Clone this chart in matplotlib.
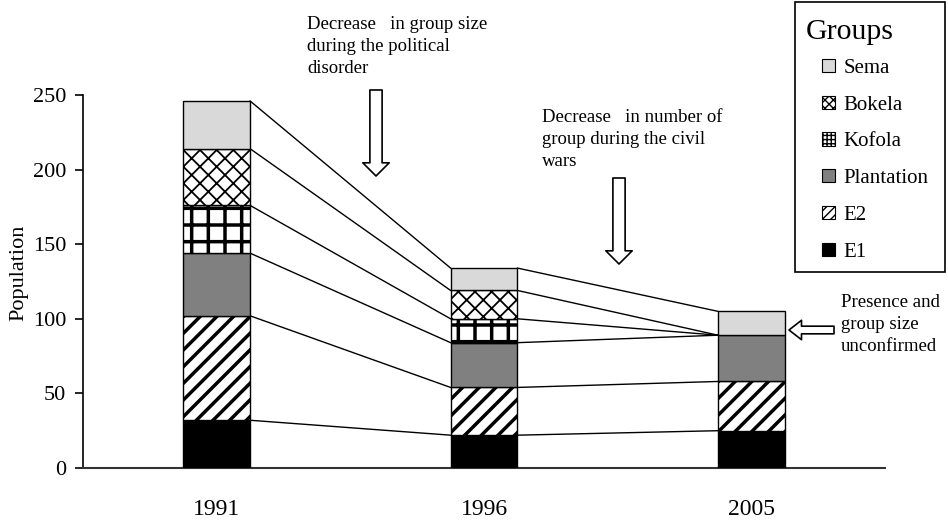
import matplotlib
matplotlib.use("Agg")
import matplotlib.pyplot as plt
from matplotlib.patches import Patch, Rectangle
import numpy as np

years = ["1991", "1996", "2005"]
groups = ["E1", "E2", "Plantation", "Kofola", "Bokela", "Sema"]
E1 = [32, 22, 25]
E2 = [70, 32, 33]
Plantation = [42, 30, 31]
Kofola = [32, 16, 0]
Bokela = [38, 19, 0]
Sema = [32, 15, 16]
series = [E1, E2, Plantation, Kofola, Bokela, Sema]
yticks = [0, 50, 100, 150, 200, 250]

styles = {
    "E1": dict(color="black", hatch=None, hlw=1.0),
    "E2": dict(color="white", hatch="//", hlw=2.5),
    "Plantation": dict(color="#808080", hatch=None, hlw=1.0),
    "Kofola": dict(color="white", hatch="+", hlw=2.5),
    "Bokela": dict(color="white", hatch="xx", hlw=1.3),
    "Sema": dict(color="#d9d9d9", hatch=None, hlw=1.0),
}

plt.rcParams["font.family"] = ["Liberation Serif", "DejaVu Serif"]

W, H = 948, 522
fig = plt.figure(figsize=(W / 100, H / 100), dpi=100)
ax = fig.add_axes([83 / W, 1 - 468 / H, (885 - 83) / W, (468 - 95) / H])

x = np.arange(len(years))
bw = 0.25
bottom = np.zeros(len(years))
tops = []
for name, vals in zip(groups, series):
    st = styles[name]
    plt.rcParams["hatch.linewidth"] = st["hlw"]
    vals = np.array(vals, dtype=float)
    mask = vals > 0
    ax.bar(x[mask], vals[mask], bw, bottom=bottom[mask], color=st["color"],
           hatch=st["hatch"], edgecolor="black", linewidth=1.0, zorder=3)
    bottom = bottom + vals
    tops.append(bottom.copy())

# connector lines
for t in tops:
    for i in range(len(years) - 1):
        ax.plot([x[i] + bw / 2, x[i + 1] - bw / 2], [t[i], t[i + 1]],
                color="black", lw=1.0, zorder=2)

ax.set_xlim(-0.5, 2.5)
ax.set_ylim(0, 250)
ax.set_yticks(yticks)
ax.set_yticklabels([str(v) for v in yticks], fontsize=16)
ax.set_xticks(x)
ax.set_xticklabels(years, fontsize=17)
ax.tick_params(axis="x", length=0, pad=22)
ax.tick_params(axis="y", direction="out", length=6, width=1.2, pad=6)
for s in ["top", "right"]:
    ax.spines[s].set_visible(False)
ax.spines["left"].set_linewidth(1.2)
ax.spines["bottom"].set_linewidth(1.5)
ax.spines["bottom"].set_color("#333333")
ax.set_ylabel("Population", fontsize=16)
ax.yaxis.set_label_coords(-0.068, 0.523)

# annotations
def ftext(px, py, s, **kw):
    fig.text(px / W, 1 - py / H, s, fontsize=13.5, va="top", ha="left",
             linespacing=1.4, **kw)

ftext(307, 16, "Decrease   in group size\nduring the political\ndisorder")
ftext(542, 109, "Decrease   in number of\ngroup during the civil\nwars")
ftext(841, 294, "Presence and\ngroup size\nunconfirmed")

def farrow(x0, y0, x1, y1, tw, hw, hl):
    ax.annotate("", xy=(x1 / W, 1 - y1 / H), xytext=(x0 / W, 1 - y0 / H),
                xycoords="figure fraction", textcoords="figure fraction",
                arrowprops=dict(arrowstyle=f"simple,head_width={hw},head_length={hl},tail_width={tw}",
                                fc="white", ec="black", lw=1.2, shrinkA=0, shrinkB=0),
                annotation_clip=False)

farrow(376, 90, 376, 176, 0.88, 1.9, 0.95)
farrow(619, 178, 619, 264, 0.88, 1.9, 0.95)
farrow(834, 330, 789, 330, 0.55, 1.4, 0.9)

# legend box
fig.add_artist(Rectangle((795 / W, 1 - 272 / H), 150 / W, 270 / H,
                         transform=fig.transFigure, fill=False,
                         edgecolor="black", lw=1.2))
fig.text(806 / W, 1 - 19 / H, "Groups", fontsize=21.5, va="top", ha="left")

handles = []
for name in reversed(groups):
    st = styles[name]
    handles.append(Patch(facecolor=st["color"], edgecolor="black",
                         hatch=(st["hatch"][0] * 4 if st["hatch"] else None),
                         label=name, lw=0.8))
plt.rcParams["hatch.linewidth"] = 1.0
leg = fig.legend(handles=handles, loc="upper left",
                 bbox_to_anchor=(822 / W, 1 - 59 / H), fontsize=15,
                 frameon=False, handlelength=0.6, handleheight=0.6,
                 labelspacing=0.85, handletextpad=0.45, borderpad=0,
                 borderaxespad=0)

fig.savefig("out.png", dpi=100)
